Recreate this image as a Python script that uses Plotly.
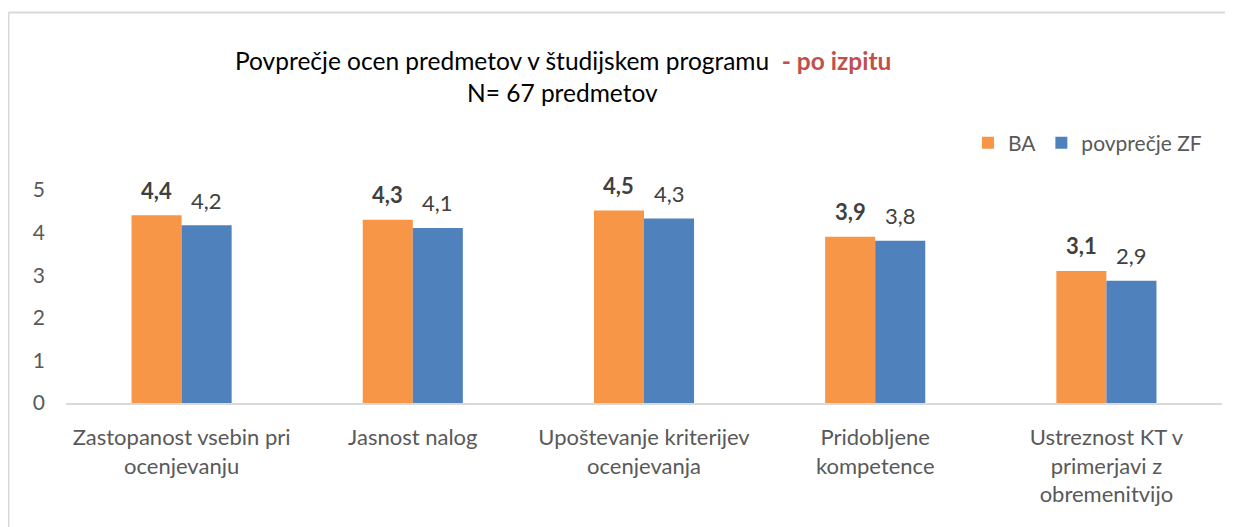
import plotly.graph_objects as go

categories = [
    "Zastopanost vsebin pri<br>ocenjevanju",
    "Jasnost nalog",
    "Upoštevanje kriterijev<br>ocenjevanja",
    "Pridobljene<br>kompetence",
    "Ustreznost KT v<br>primerjavi z<br>obremenitvijo",
]
ba_values = [4.41, 4.30, 4.52, 3.90, 3.10]
zf_values = [4.17, 4.11, 4.33, 3.81, 2.87]
series_names = ["BA", "povprečje ZF"]
y_ticks = [0, 1, 2, 3, 4, 5]

ORANGE = "#F79646"
BLUE = "#4F81BD"
FONT = "Lato"
TXT = "#595959"

OFF = 8  # page body margin
W, H = 1233 - OFF, 527 - OFF
L, R, T, B = 66 - OFF, 11, 190 - OFF, 124
pw = W - L - R
ph = H - T - B

def px_x(page_x):
    return (page_x - OFF - L) / pw

def px_y(page_y):
    return (H - B - (page_y - OFF)) / ph

def fmt(v):
    return f"{v:.1f}".replace(".", ",")

fig = go.Figure()
fig.add_trace(go.Bar(x=categories, y=ba_values, name=series_names[0],
                     marker=dict(color=ORANGE, line=dict(width=0))))
fig.add_trace(go.Bar(x=categories, y=zf_values, name=series_names[1],
                     marker=dict(color=BLUE, line=dict(width=0))))

bargap = 0.567
group_px = pw / len(categories) * (1 - bargap)
half = group_px / 4
anns = []
for i, c in enumerate(categories):
    anns.append(dict(x=c, y=ba_values[i], xref="x", yref="y", text=f"<b>{fmt(ba_values[i])}</b>",
                     showarrow=False, xshift=-half, yshift=25, yanchor="middle",
                     font=dict(family=FONT, size=22, color="#404040")))
    anns.append(dict(x=c, y=zf_values[i], xref="x", yref="y", text=fmt(zf_values[i]),
                     showarrow=False, xshift=half, yshift=25, yanchor="middle",
                     font=dict(family=FONT, size=22, color="#404040")))

anns.append(dict(x=px_x(563), y=px_y(60), xref="paper", yref="paper",
                 text="Povprečje ocen predmetov v študijskem programu&nbsp;&nbsp;<span style='color:#C0504D'><b>- po izpitu</b></span>",
                 showarrow=False, xanchor="center", yanchor="middle",
                 font=dict(family=FONT, size=24.5, color="#000000")))
anns.append(dict(x=px_x(562), y=px_y(92), xref="paper", yref="paper",
                 text="N= 67 predmetov", showarrow=False, xanchor="center", yanchor="middle",
                 font=dict(family=FONT, size=24.5, color="#000000")))

border = dict(color="#D9D9D9", width=2)
fig.update_layout(
    width=W, height=H,
    margin=dict(l=L, r=R, t=T, b=B, pad=0),
    paper_bgcolor="white", plot_bgcolor="white",
    barmode="group", bargap=bargap, bargroupgap=0,
    font=dict(family=FONT, size=22, color=TXT),
    showlegend=True,
    legend=dict(orientation="h", x=px_x(1207), xanchor="right",
                y=px_y(143), yanchor="middle",
                font=dict(family=FONT, size=21, color=TXT),
                itemwidth=30, tracegroupgap=0),
    annotations=anns,
    shapes=[
        dict(type="line", xref="paper", yref="paper",
             x0=px_x(8.5), x1=1.3, y0=px_y(12.5), y1=px_y(12.5), line=border, layer="below"),
        dict(type="line", xref="paper", yref="paper",
             x0=px_x(8.5), x1=px_x(8.5), y0=-1.5, y1=px_y(12.5), line=border, layer="below"),
    ],
)
fig.update_xaxes(showline=True, linecolor="#D9D9D9", linewidth=1.5, showgrid=False,
                 ticks="", tickfont=dict(family=FONT, size=22, color=TXT),
                 ticklabelstandoff=14)
fig.update_yaxes(range=[0, 5], tickvals=y_ticks, showgrid=False, showline=False,
                 zeroline=False, ticks="", tickfont=dict(family=FONT, size=21, color=TXT),
                 ticklabelstandoff=20)

fig.write_html("out.html")
